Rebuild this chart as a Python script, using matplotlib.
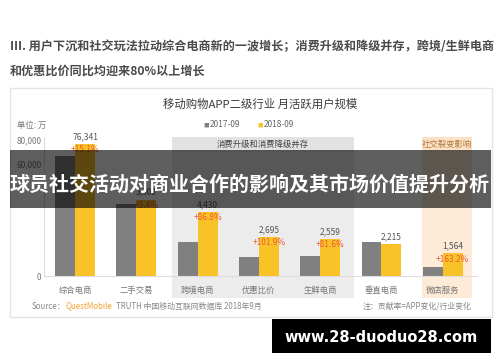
import numpy as np
import matplotlib
matplotlib.use("Agg")
import matplotlib.pyplot as plt
from matplotlib.patches import Rectangle

plt.rcParams['font.family'] = ['Noto Sans CJK SC', 'DejaVu Sans']

# 数据：月活跃用户规模（单位：万）
categories = ['综合电商', '二手交易', '跨境电商', '优惠比价', '生鲜电商', '垂直电商', '微店服务']
mau_2017 = [66330, 5030, 2370, 1335, 1410, 2340, 594]
mau_2018 = [76341, 5300, 4430, 2695, 2559, 2215, 1564]
growth = ['+15.1%', '+5.4%', '+86.8%', '+101.9%', '+81.6%', '', '+163.2%']
y_ticks = [0, 60000, 80000]
y_tick_labels = ['0', '60,000', '80,000']

W, H = 500, 362
GRAY = '#808080'
YELLOW = '#f9c327'
RED = '#ee5a3c'


def fx(x):
    return x / W


def fy(y):
    return 1 - y / H


# 截断的纵轴：0~7000 正常，7000~60000 压缩
brk_v = [-1e6, 0, 7000, 60000, 1e6]
brk_p = [-14400, 0, 100.8, 112, 112 + 940000 * 0.0012]


def fwd(v):
    return np.interp(v, brk_v, brk_p)


def inv(p):
    return np.interp(p, brk_p, brk_v)


fig = plt.figure(figsize=(5, 3.62), dpi=100)
fig.patch.set_facecolor('white')

# 面板外框
fig.add_artist(Rectangle((fx(10), fy(317)), fx(482), 229 / H, transform=fig.transFigure,
                         facecolor='white', edgecolor='#e4e4e4', lw=1, zorder=0))

# 顶部说明文字
fig.text(fx(10), fy(47), 'III. 用户下沉和社交玩法拉动综合电商新的一波增长；消费升级和降级并存，跨境/生鲜电商',
         fontsize=8.7, color='#4a4a4a', weight='bold', va='center', ha='left')
fig.text(fx(10), fy(71), '和优惠比价同比均迎来80%以上增长',
         fontsize=8.7, color='#4a4a4a', weight='bold', va='center', ha='left')

# 图表标题和图例
fig.text(fx(260), fy(104), '移动购物APP二级行业 月活跃用户规模', fontsize=8.2, color='#3a3a3a',
         ha='center', va='center')
fig.text(fx(206), fy(125), '■', fontsize=4, color=GRAY, ha='center', va='center')
fig.text(fx(210), fy(125), '2017-09', fontsize=6, color='#666666', ha='left', va='center')
fig.text(fx(260), fy(125), '■', fontsize=4, color=YELLOW, ha='center', va='center')
fig.text(fx(264), fy(125), '2018-09', fontsize=6, color='#666666', ha='left', va='center')
fig.text(fx(17), fy(125), '单位: 万', fontsize=6, color='#777777', ha='left', va='center')

ax = fig.add_axes([fx(44), fy(276), 433 / W, 139 / H])
ax.set_facecolor('none')
ax.set_yscale('function', functions=(fwd, inv))

x = np.arange(len(categories))
w = 0.326
trans = ax.get_xaxis_transform()

# 背景分组区域
ax.add_patch(Rectangle((1.582, -0.158), 2.969, 1.158, transform=trans, facecolor='#ececec',
                       edgecolor='none', zorder=0, clip_on=False))
ax.add_patch(Rectangle((1.582, 0.892), 2.969, 0.108, transform=trans, facecolor='#e2e2e2',
                       edgecolor='none', zorder=0, clip_on=False))
ax.text(3.066, 0.946, '消费升级和消费降级并存', transform=trans, fontsize=6, color='#444444',
        ha='center', va='center')
ax.add_patch(Rectangle((5.661, -0.158), 0.815, 1.158, transform=trans, facecolor='#fdebd7',
                       edgecolor='none', zorder=0, clip_on=False))
ax.add_patch(Rectangle((5.661, 0.892), 0.815, 0.108, transform=trans, facecolor='#fbe2c6',
                       edgecolor='none', zorder=0, clip_on=False))
ax.text(6.068, 0.946, '社交裂变影响', transform=trans, fontsize=6, color='#b0783c',
        ha='center', va='center')

ax.bar(x - w / 2, mau_2017, w, color=GRAY, zorder=2)
ax.bar(x + w / 2, mau_2018, w, color=YELLOW, zorder=2)

for xi, v, g in zip(x, mau_2018, growth):
    ax.annotate(f'{v:,}', (xi + w / 2, v), xytext=(0, 5.5), textcoords='offset points',
                ha='center', va='center', fontsize=6, color='#555555', zorder=3)
    if g:
        ax.annotate(g, (xi + w / 2, v), xytext=(0, -4), textcoords='offset points',
                    ha='center', va='center', fontsize=6, color=RED, zorder=3)

ax.set_xlim(-0.506, 6.558)
ax.set_ylim(0, 82500)
ax.set_xticks(x)
ax.set_xticklabels(categories, fontsize=6, color='#777777')
ax.set_yticks(y_ticks)
ax.set_yticklabels(y_tick_labels, fontsize=6, color='#777777')
ax.yaxis.set_minor_locator(plt.NullLocator())
ax.tick_params(axis='both', length=0)
ax.tick_params(axis='x', pad=7)
ax.tick_params(axis='y', pad=2)
for s in ['top', 'right']:
    ax.spines[s].set_visible(False)
for s in ['left', 'bottom']:
    ax.spines[s].set_color('#dddddd')
    ax.spines[s].set_linewidth(0.8)

# 来源和注释
fig.text(fx(32), fy(306), 'Source：', fontsize=5.7, color='#888888', ha='left', va='center')
fig.text(fx(66), fy(306), 'QuestMobile', fontsize=5.7, color='#f0a030', ha='left', va='center')
fig.text(fx(116), fy(306), 'TRUTH 中国移动互联网数据库 2018年9月', fontsize=5.7, color='#888888',
         ha='left', va='center')
fig.text(fx(472), fy(306), '注：贡献率=APP变化/行业变化', fontsize=5.7, color='#888888',
         ha='right', va='center')

# 半透明标题横幅
fig.add_artist(Rectangle((fx(10), fy(208)), fx(481), 58 / H, transform=fig.transFigure,
                         facecolor='black', alpha=0.63, edgecolor='none', zorder=10))
fig.text(fx(250), fy(184), '球员社交活动对商业合作的影响及其市场价值提升分析', fontsize=14.4,
         color='white', weight='bold', ha='center', va='center', zorder=11)

# 右下角网址框
fig.add_artist(Rectangle((fx(272), fy(353)), fx(219), 34 / H, transform=fig.transFigure,
                         facecolor='black', edgecolor='none', zorder=10))
fig.text(fx(381), fy(337), 'www.28-duoduo28.com', fontsize=10.5, color='white', weight='bold',
         family='DejaVu Sans', ha='center', va='center', zorder=11)

fig.savefig('out.png', dpi=100)
